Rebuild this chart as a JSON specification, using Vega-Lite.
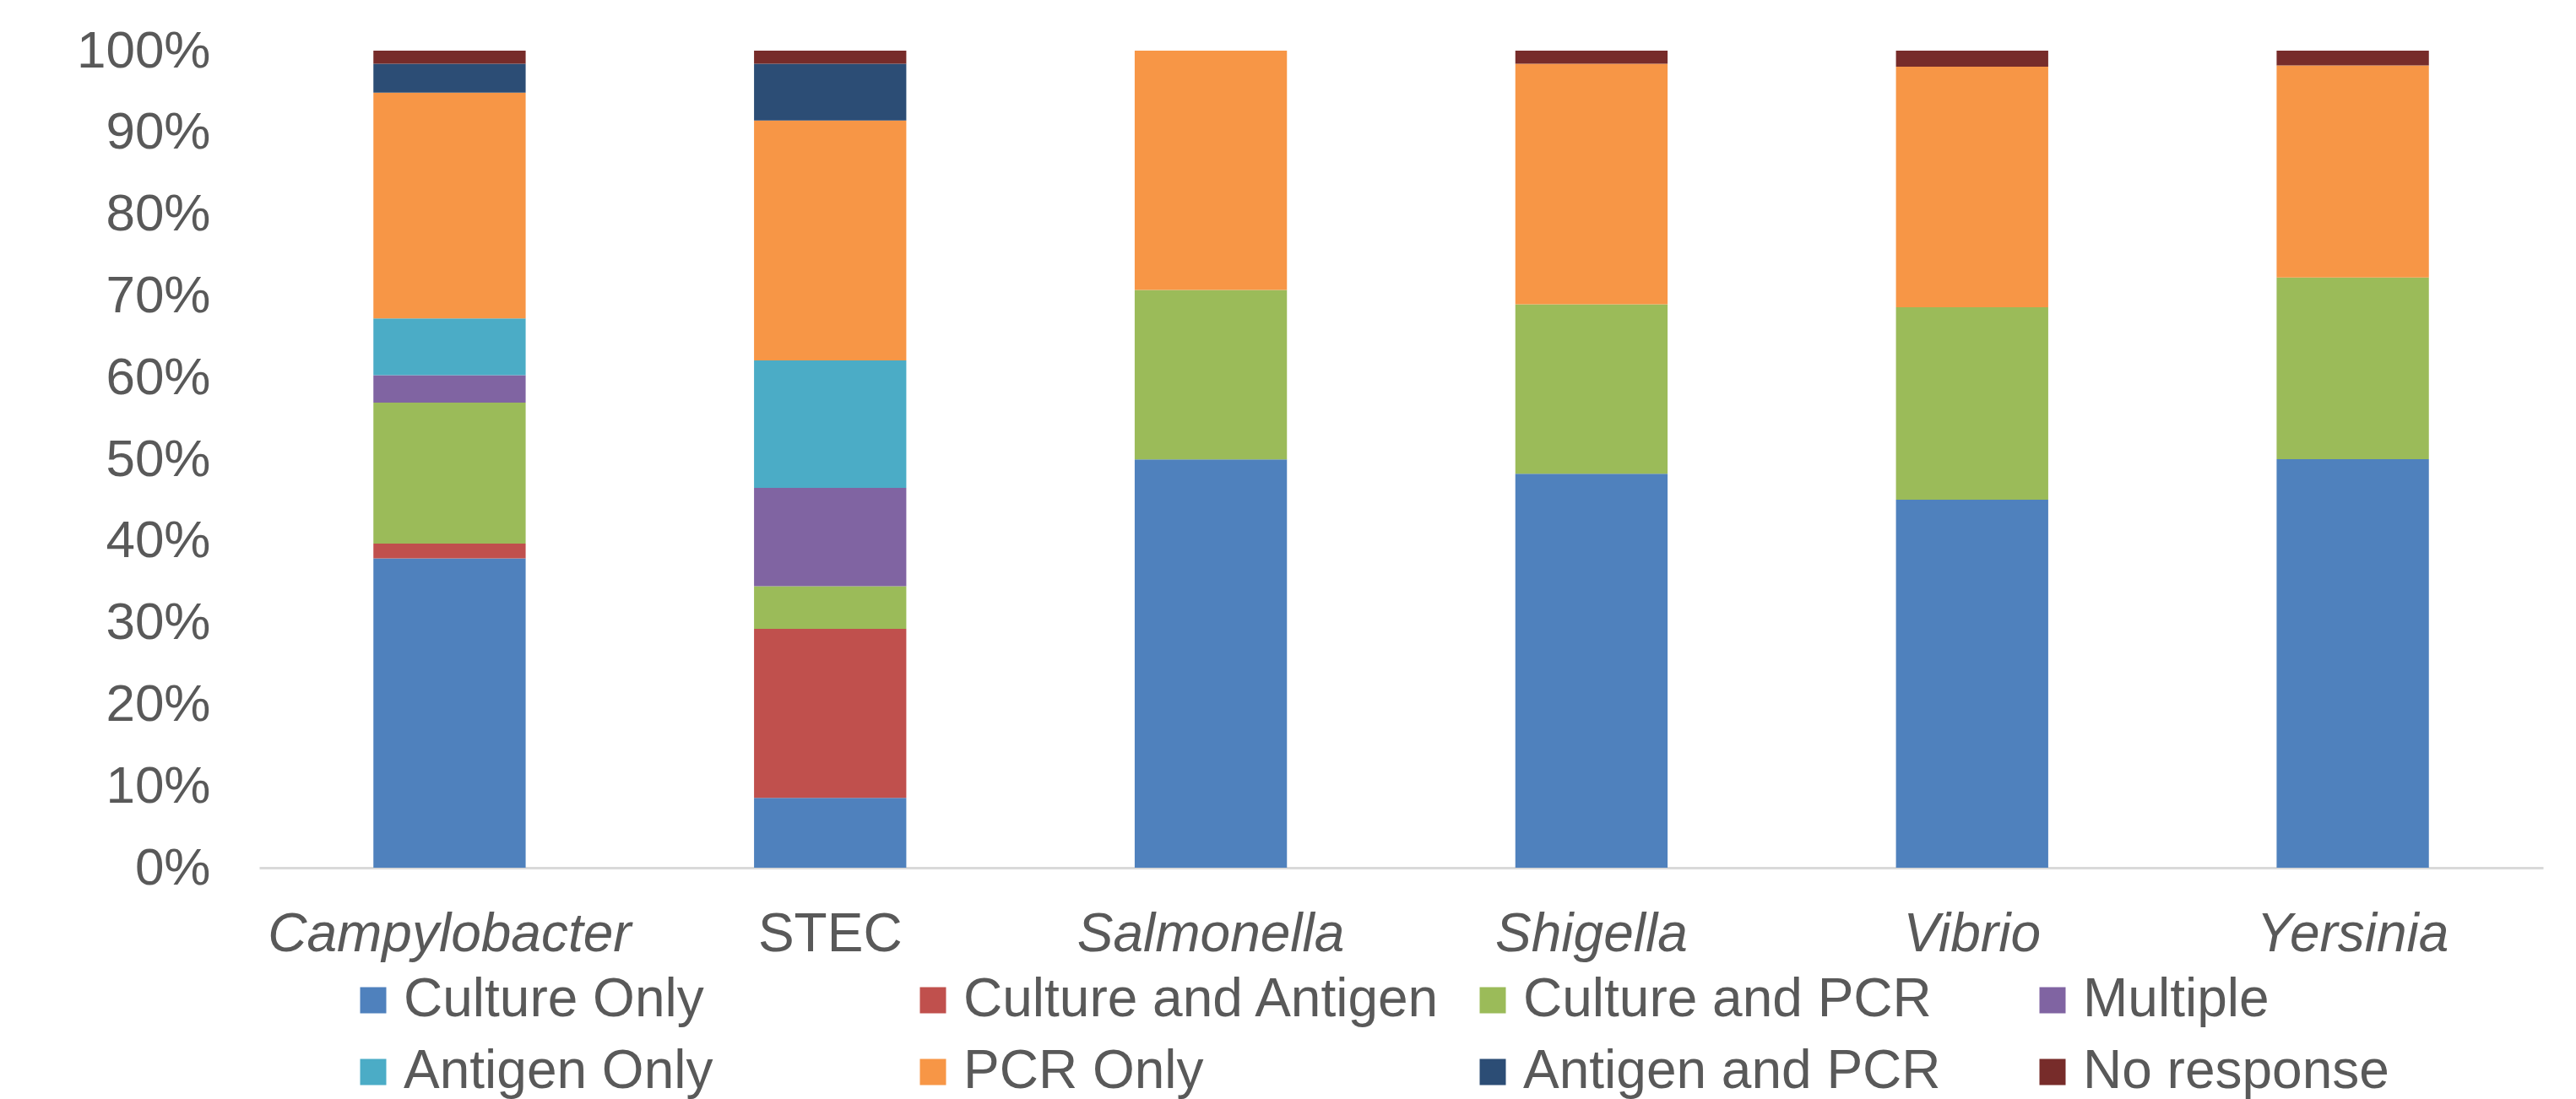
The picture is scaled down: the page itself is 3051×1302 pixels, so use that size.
{
  "$schema": "https://vega.github.io/schema/vega-lite/v6.json",
  "autosize": {"type": "none"},
  "padding": {"left": 307, "top": 60, "right": 39, "bottom": 274},
  "width": 2705,
  "height": 968,
  "background": "white",
  "config": {
    "view": {"stroke": null},
    "font": "Liberation Sans"
  },
  "data": {
    "values": [
      {"pathogen": "Campylobacter", "method": "Culture Only", "pct": 37.85},
      {"pathogen": "Campylobacter", "method": "Culture and Antigen", "pct": 1.8},
      {"pathogen": "Campylobacter", "method": "Culture and PCR", "pct": 17.26},
      {"pathogen": "Campylobacter", "method": "Multiple", "pct": 3.34},
      {"pathogen": "Campylobacter", "method": "Antigen Only", "pct": 6.96},
      {"pathogen": "Campylobacter", "method": "PCR Only", "pct": 27.6},
      {"pathogen": "Campylobacter", "method": "Antigen and PCR", "pct": 3.55},
      {"pathogen": "Campylobacter", "method": "No response", "pct": 1.6},
      {"pathogen": "STEC", "method": "Culture Only", "pct": 8.56},
      {"pathogen": "STEC", "method": "Culture and Antigen", "pct": 20.67},
      {"pathogen": "STEC", "method": "Culture and PCR", "pct": 5.22},
      {"pathogen": "STEC", "method": "Multiple", "pct": 12.04},
      {"pathogen": "STEC", "method": "Antigen Only", "pct": 15.6},
      {"pathogen": "STEC", "method": "PCR Only", "pct": 29.37},
      {"pathogen": "STEC", "method": "Antigen and PCR", "pct": 6.96},
      {"pathogen": "STEC", "method": "No response", "pct": 1.6},
      {"pathogen": "Salmonella", "method": "Culture Only", "pct": 50.0},
      {"pathogen": "Salmonella", "method": "Culture and PCR", "pct": 20.74},
      {"pathogen": "Salmonella", "method": "PCR Only", "pct": 29.3},
      {"pathogen": "Shigella", "method": "Culture Only", "pct": 48.2},
      {"pathogen": "Shigella", "method": "Culture and PCR", "pct": 20.74},
      {"pathogen": "Shigella", "method": "PCR Only", "pct": 29.44},
      {"pathogen": "Shigella", "method": "No response", "pct": 1.6},
      {"pathogen": "Vibrio", "method": "Culture Only", "pct": 45.03},
      {"pathogen": "Vibrio", "method": "Culture and PCR", "pct": 23.57},
      {"pathogen": "Vibrio", "method": "PCR Only", "pct": 29.44},
      {"pathogen": "Vibrio", "method": "No response", "pct": 1.96},
      {"pathogen": "Yersinia", "method": "Culture Only", "pct": 50.0},
      {"pathogen": "Yersinia", "method": "Culture and PCR", "pct": 22.26},
      {"pathogen": "Yersinia", "method": "PCR Only", "pct": 25.96},
      {"pathogen": "Yersinia", "method": "No response", "pct": 1.8}
    ]
  },
  "transform": [
    {"calculate": "indexof(['Culture Only', 'Culture and Antigen', 'Culture and PCR', 'Multiple', 'Antigen Only', 'PCR Only', 'Antigen and PCR', 'No response'], datum.method)", "as": "stackOrder"}
  ],
  "mark": {"type": "bar", "strokeWidth": 0},
  "encoding": {
    "x": {
      "field": "pathogen",
      "type": "nominal",
      "sort": ["Campylobacter", "STEC", "Salmonella", "Shigella", "Vibrio", "Yersinia"],
      "scale": {"paddingInner": 0.6, "paddingOuter": 0.3},
      "axis": {
        "title": null,
        "labelAngle": 0,
        "labelFont": "Liberation Sans",
        "labelFontSize": 64,
        "labelColor": "#595959",
        "labelLimit": 1000,
        "labelFontStyle": {"condition": {"test": "datum.value == 'STEC'", "value": "normal"}, "value": "italic"},
        "labelPadding": 47,
        "ticks": false,
        "domainColor": "#d9d9d9",
        "domainWidth": 3,
        "grid": false
      }
    },
    "y": {
      "field": "pct",
      "type": "quantitative",
      "stack": "normalize",
      "scale": {"domain": [0, 1]},
      "axis": {
        "title": null,
        "values": [0, 0.1, 0.2, 0.3, 0.4, 0.5, 0.6, 0.7, 0.8, 0.9, 1],
        "format": ".0%",
        "labelFont": "Liberation Sans",
        "labelFontSize": 62,
        "labelColor": "#595959",
        "labelPadding": 58,
        "ticks": false,
        "domain": false,
        "grid": false
      }
    },
    "order": {"field": "stackOrder", "type": "quantitative", "sort": "ascending"},
    "color": {
      "field": "method",
      "type": "nominal",
      "scale": {
        "domain": ["Culture Only", "Culture and Antigen", "Culture and PCR", "Multiple", "Antigen Only", "PCR Only", "Antigen and PCR", "No response"],
        "range": ["#4F81BD", "#C0504D", "#9BBB59", "#8064A2", "#4BACC6", "#F79646", "#2C4D75", "#772C2A"]
      },
      "legend": {
        "title": null,
        "orient": "none",
        "legendX": 103,
        "legendY": 1093,
        "direction": "horizontal",
        "columns": 4,
        "gridAlign": "all",
        "columnPadding": 29,
        "rowPadding": 21,
        "padding": 0,
        "symbolType": "square",
        "symbolSize": 961,
        "symbolStrokeWidth": 0,
        "symbolOffset": 0,
        "labelOffset": 4,
        "labelFont": "Liberation Sans",
        "labelFontSize": 64,
        "labelColor": "#595959",
        "labelLimit": 1000
      }
    }
  }
}
